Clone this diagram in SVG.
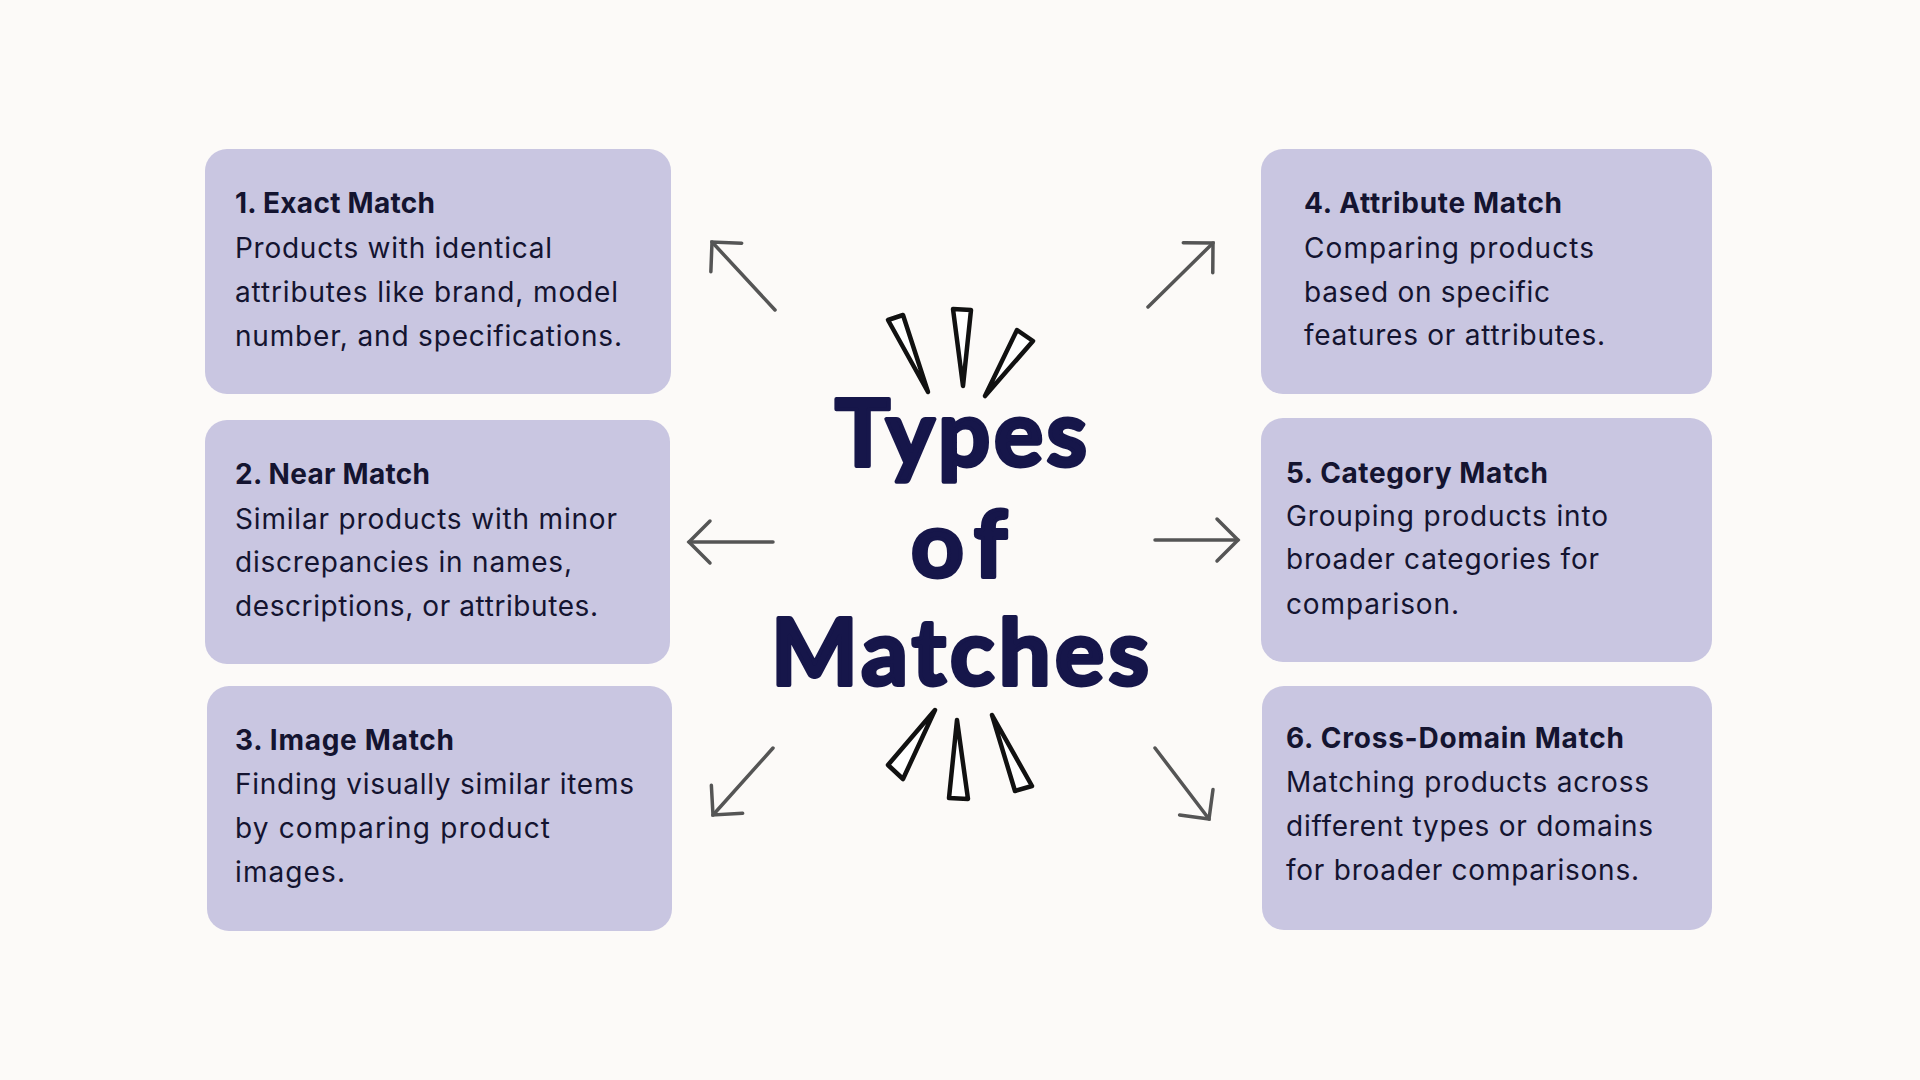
<svg xmlns="http://www.w3.org/2000/svg" width="1920" height="1080" viewBox="0 0 1920 1080">
  <defs>
    <style>
      .card { fill: #c9c6e1; }
      .ttl { font-family: Inter, "Noto Sans", "DejaVu Sans", sans-serif; font-weight: 700; font-size: 28px; fill: #141430; }
      .body { font-family: Inter, "Noto Sans", "DejaVu Sans", sans-serif; font-weight: 400; font-size: 28px; fill: #141430; }
      .big { font-family: Lato, "Noto Sans", "DejaVu Sans", sans-serif; font-weight: 700; font-size: 92px; fill: #16164a; stroke: #16164a; stroke-width: 4; stroke-linejoin: round; stroke-linecap: round; text-anchor: middle; }
      .spike { fill: #ffffff; stroke: #111111; stroke-width: 4.5; stroke-linejoin: round; }
      .conn { fill: none; stroke: #555555; stroke-width: 3.5; stroke-linecap: round; }
    </style>
    <marker id="chev" markerUnits="userSpaceOnUse" viewBox="-25 -25 50 50" markerWidth="50" markerHeight="50" refX="0" refY="0" orient="auto">
      <path d="M -21 -21 L 0 0 L -21 21" fill="none" stroke="#555555" stroke-width="3.5" stroke-linecap="round" stroke-linejoin="miter"/>
    </marker>
  </defs>
  <rect x="0" y="0" width="1920" height="1080" fill="#fcfaf8"/>

  <g id="node-exact">
    <rect class="card" x="205" y="149" width="466" height="245" rx="22"/>
    <text class="ttl" x="235" y="213" textLength="200">1. Exact Match</text>
    <text class="body" x="235" y="258" textLength="317">Products with identical</text>
    <text class="body" x="235" y="302" textLength="383">attributes like brand, model</text>
    <text class="body" x="235" y="346" textLength="387">number, and specifications.</text>
  </g>

  <g id="node-near">
    <rect class="card" x="205" y="420" width="465" height="244" rx="22"/>
    <text class="ttl" x="235" y="484" textLength="195">2. Near Match</text>
    <text class="body" x="235" y="529" textLength="382">Similar products with minor</text>
    <text class="body" x="235" y="572" textLength="337">discrepancies in names,</text>
    <text class="body" x="235" y="616" textLength="363">descriptions, or attributes.</text>
  </g>

  <g id="node-image">
    <rect class="card" x="207" y="686" width="465" height="245" rx="22"/>
    <text class="ttl" x="235" y="750" textLength="219">3. Image Match</text>
    <text class="body" x="235" y="794" textLength="399">Finding visually similar items</text>
    <text class="body" x="235" y="838" textLength="315">by comparing product</text>
    <text class="body" x="235" y="882" textLength="110">images.</text>
  </g>

  <g id="node-attribute">
    <rect class="card" x="1261" y="149" width="451" height="245" rx="22"/>
    <text class="ttl" x="1304" y="213" textLength="258">4. Attribute Match</text>
    <text class="body" x="1304" y="258" textLength="290">Comparing products</text>
    <text class="body" x="1304" y="302" textLength="246">based on specific</text>
    <text class="body" x="1304" y="345" textLength="301">features or attributes.</text>
  </g>

  <g id="node-category">
    <rect class="card" x="1261" y="418" width="451" height="244" rx="22"/>
    <text class="ttl" x="1286" y="483" textLength="262">5. Category Match</text>
    <text class="body" x="1286" y="526" textLength="322">Grouping products into</text>
    <text class="body" x="1286" y="569" textLength="313">broader categories for</text>
    <text class="body" x="1286" y="614" textLength="173">comparison.</text>
  </g>

  <g id="node-crossdomain">
    <rect class="card" x="1262" y="686" width="450" height="244" rx="22"/>
    <text class="ttl" x="1286" y="748" textLength="338">6. Cross-Domain Match</text>
    <text class="body" x="1286" y="792" textLength="363">Matching products across</text>
    <text class="body" x="1286" y="836" textLength="367">different types or domains</text>
    <text class="body" x="1286" y="880" textLength="353">for broader comparisons.</text>
  </g>

  <g id="node-center">
    <g id="spikes-top">
      <polygon class="spike" points="888,320 903,315 928,392"/>
      <polygon class="spike" points="953,309 971,310 963,386"/>
      <polygon class="spike" points="1017,330 1033,341 985,396"/>
    </g>
    <text class="big" x="961" y="466" textLength="252" lengthAdjust="spacing">Types</text>
    <text class="big" x="959" y="577" textLength="96" lengthAdjust="spacing">of</text>
    <text class="big" x="960" y="685" textLength="378" lengthAdjust="spacing">Matches</text>
    <g id="spikes-bottom">
      <polygon class="spike" points="935,710 888,765 903,779"/>
      <polygon class="spike" points="957,720 949,798 968,799"/>
      <polygon class="spike" points="992,715 1015,791 1032,786"/>
    </g>
  </g>

  <g id="connectors">
    <line class="conn" x1="775" y1="310" x2="712" y2="242" marker-end="url(#chev)"/>
    <line class="conn" x1="773" y1="542" x2="689" y2="542" marker-end="url(#chev)"/>
    <line class="conn" x1="773" y1="748" x2="713" y2="815" marker-end="url(#chev)"/>
    <line class="conn" x1="1148" y1="307" x2="1213" y2="243" marker-end="url(#chev)"/>
    <line class="conn" x1="1155" y1="540" x2="1238" y2="540" marker-end="url(#chev)"/>
    <line class="conn" x1="1155" y1="748" x2="1209" y2="819" marker-end="url(#chev)"/>
  </g>
</svg>
